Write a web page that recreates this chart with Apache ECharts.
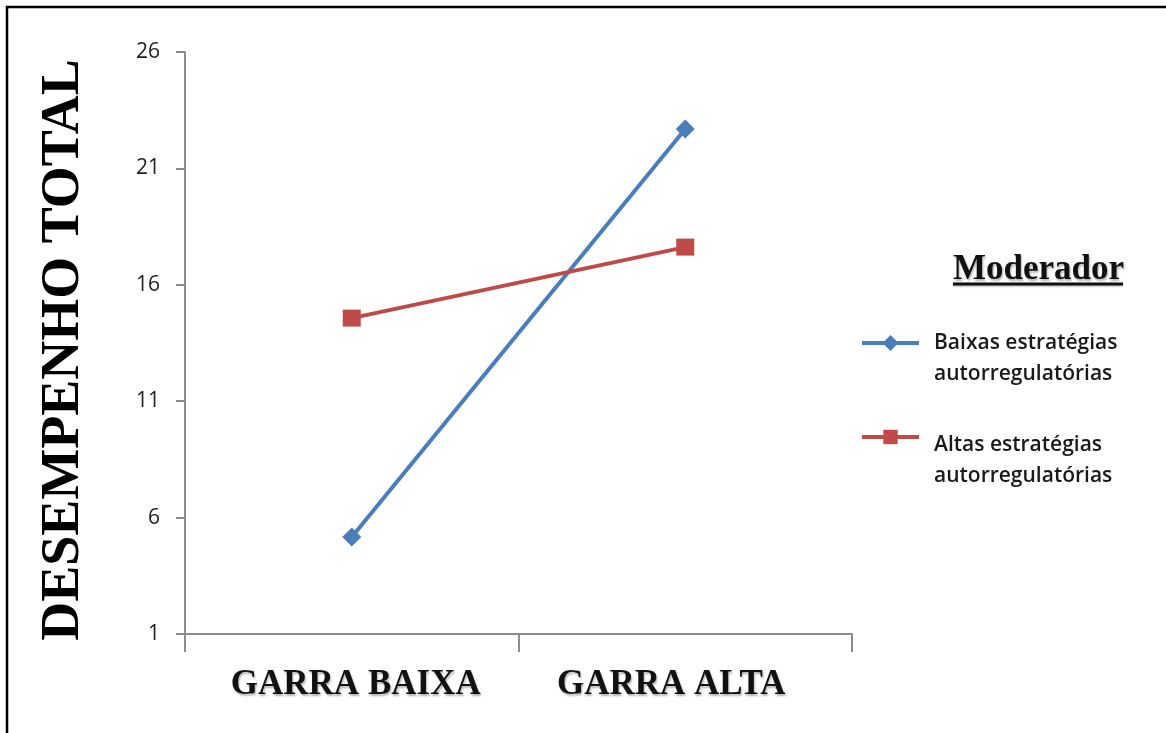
<!DOCTYPE html>
<html>
<head>
<meta charset="utf-8">
<script src="https://cdn.jsdelivr.net/npm/echarts@6/dist/echarts.min.js"></script>
<style>
  html, body { margin: 0; padding: 0; background: #fff; }
  #chart { width: 1166px; height: 733px; }
</style>
</head>
<body>
<div id="chart"></div>
<script>
// Interaction plot: total performance by claw level, moderated by self-regulation strategies
const categories = ['GARRA BAIXA', 'GARRA ALTA'];
const yTicks = { min: 1, max: 26, interval: 5 };
const seriesNames = ['Baixas estratégias autorregulatórias', 'Altas estratégias autorregulatórias'];
const baixasValues = [5.17, 22.69];
const altasValues = [14.57, 17.62];

const SERIF = '"Liberation Serif", "Times New Roman", serif';
const SANS = '"Open Sans", Lato, sans-serif';
const AXIS_GRAY = '#8c8c8c';

const chart = echarts.init(document.getElementById('chart'), null, { renderer: 'canvas' });

// two-line legend label; an empty leading line of height `gap` moves the text below the icon
function legendLabel(name) {
  const parts = name.split(' autorregulatórias');
  return '{g| }\n{t|' + parts[0] + '}\n{t|autorregulatórias}';
}
function legendRich(gap) {
  return {
    g: { lineHeight: gap, fontSize: 4 },
    t: { fontFamily: SANS, fontWeight: 600, fontSize: 21, lineHeight: 31, color: '#1a1a1a' }
  };
}

const shadowText = {
  textShadowColor: 'rgba(0,0,0,0.3)',
  textShadowBlur: 2,
  textShadowOffsetX: 1,
  textShadowOffsetY: 2
};

chart.setOption({
  backgroundColor: '#ffffff',
  animation: false,
  grid: { left: 185, right: 314, top: 52, bottom: 99, containLabel: false },
  title: {
    text: 'Moderador',
    left: 953,
    top: 252,
    padding: 0,
    textStyle: Object.assign({
      fontFamily: SERIF,
      fontWeight: 'bold',
      fontSize: 35,
      color: '#111'
    }, shadowText)
  },
  legend: [
    {
      data: [seriesNames[0]],
      left: 860,
      top: 310,
      padding: 0,
      itemWidth: 57,
      itemHeight: 20,
      lineStyle: { width: 4 },
      formatter: legendLabel,
      selectedMode: false,
      textStyle: { padding: [0, 0, 0, 10], rich: legendRich(32) }
    },
    {
      data: [seriesNames[1]],
      left: 860,
      top: 404,
      padding: 0,
      itemWidth: 57,
      itemHeight: 18,
      lineStyle: { width: 4 },
      formatter: legendLabel,
      selectedMode: false,
      textStyle: { padding: [0, 0, 0, 10], rich: legendRich(48) }
    }
  ],
  xAxis: {
    type: 'category',
    data: categories,
    boundaryGap: true,
    axisLine: { lineStyle: { color: AXIS_GRAY, width: 2 } },
    axisTick: { show: true, interval: 0, length: 18, lineStyle: { color: AXIS_GRAY, width: 2 } },
    axisLabel: Object.assign({
      interval: 0,
      margin: 33,
      fontFamily: SERIF,
      fontWeight: 'bold',
      fontSize: 35,
      color: '#111',
      formatter: (v, i) => (i === 0 ? '{a|' + v + '}' : '{b|' + v + '}'),
      rich: {
        a: { fontFamily: SERIF, fontWeight: 'bold', fontSize: 35, color: '#111', padding: [0, 0, 0, 8] },
        b: { fontFamily: SERIF, fontWeight: 'bold', fontSize: 35, color: '#111', padding: [0, 28, 0, 0] }
      }
    }, shadowText),
    splitLine: { show: false }
  },
  yAxis: {
    type: 'value',
    min: yTicks.min,
    max: yTicks.max,
    interval: yTicks.interval,
    name: 'DESEMPENHO TOTAL',
    nameLocation: 'middle',
    nameRotate: 90,
    nameGap: 94,
    nameTextStyle: {
      fontFamily: SERIF,
      fontWeight: 'bold',
      fontSize: 54,
      color: '#000',
      padding: [0, 14, 0, 0]
    },
    axisLine: { show: true, lineStyle: { color: AXIS_GRAY, width: 2 } },
    axisTick: { show: true, length: 9, lineStyle: { color: AXIS_GRAY, width: 2 } },
    axisLabel: { margin: 25, fontFamily: SANS, fontSize: 21, color: '#222' },
    splitLine: { show: false }
  },
  series: [
    {
      name: seriesNames[0],
      type: 'line',
      data: baixasValues,
      symbol: 'diamond',
      symbolSize: 19,
      color: '#4a7ebb',
      lineStyle: { width: 4, color: '#4a7ebb' },
      itemStyle: { color: '#4a7ebb' }
    },
    {
      name: seriesNames[1],
      type: 'line',
      data: altasValues,
      symbol: 'rect',
      symbolSize: [18, 17],
      color: '#be4b48',
      lineStyle: { width: 4, color: '#be4b48' },
      itemStyle: { color: '#be4b48' }
    }
  ],
  graphic: [
    {
      // frame around the figure (top and left edges)
      type: 'polyline',
      shape: { points: [[7, 740], [7, 7], [1170, 7]] },
      style: { stroke: '#000', lineWidth: 2.5, fill: null },
      silent: true
    },
    {
      // underline of the legend heading
      type: 'line',
      shape: { x1: 953, y1: 284, x2: 1123, y2: 284 },
      style: { stroke: '#111', lineWidth: 3, shadowColor: 'rgba(0,0,0,0.3)', shadowBlur: 2, shadowOffsetY: 1 },
      silent: true
    }
  ]
});
</script>
</body>
</html>
